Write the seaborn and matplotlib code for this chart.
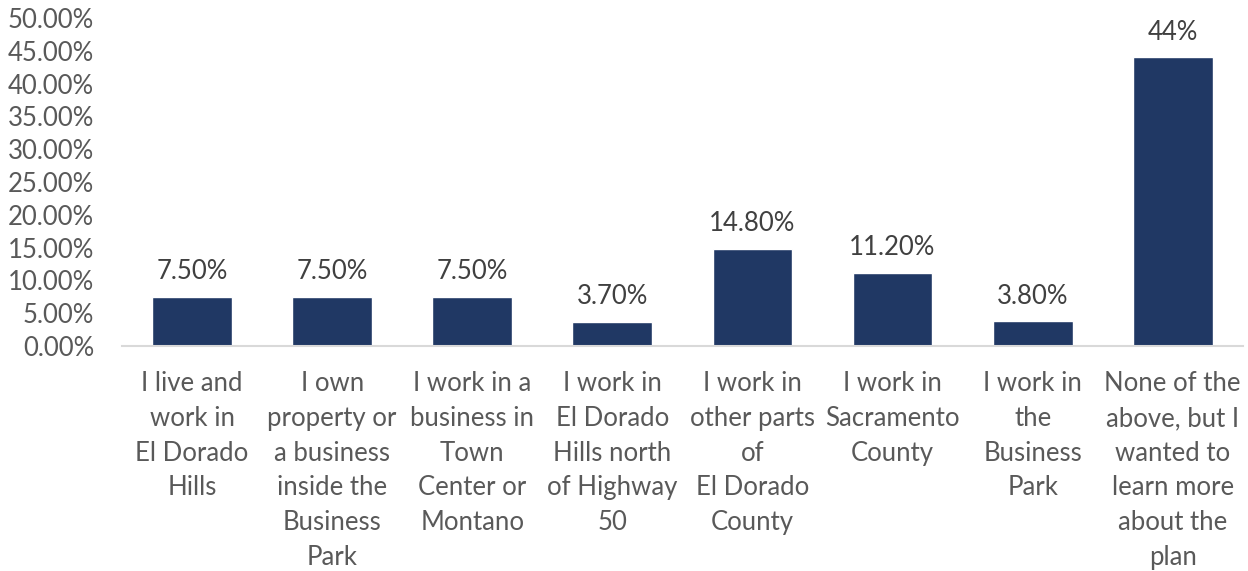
import matplotlib
matplotlib.use("Agg")
import matplotlib.pyplot as plt
from matplotlib.ticker import PercentFormatter
import seaborn as sns
import pandas as pd

categories = [
    "I live and\nwork in\nEl Dorado\nHills",
    "I own\nproperty or\na business\ninside the\nBusiness\nPark",
    "I work in a\nbusiness in\nTown\nCenter or\nMontano",
    "I work in\nEl Dorado\nHills north\nof Highway\n50",
    "I work in\nother parts\nof\nEl Dorado\nCounty",
    "I work in\nSacramento\nCounty",
    "I work in\nthe\nBusiness\nPark",
    "None of the\nabove, but I\nwanted to\nlearn more\nabout the\nplan",
]
shares = [0.075, 0.075, 0.075, 0.037, 0.148, 0.112, 0.038, 0.44]
label_decimals = [2, 2, 2, 2, 2, 2, 2, 0]

sns.set_theme(style="white")
plt.rcParams["font.family"] = ["Lato", "DejaVu Sans"]

df = pd.DataFrame({"group": categories, "share": shares})

fig = plt.figure(figsize=(12.48, 5.71), dpi=100)
ax = fig.add_axes([0.0978, 0.394, 0.898, 0.5745])

sns.barplot(data=df, x="group", y="share", color="#203864", saturation=1,
            width=0.57, ax=ax)

ax.set_ylim(0, 0.5)
ax.set_yticks([i * 0.05 for i in range(11)])
ax.yaxis.set_major_formatter(PercentFormatter(1.0, decimals=2))
ax.set_xlim(-0.5, len(categories) - 0.5)
ax.set_xlabel("")
ax.set_ylabel("")

for side in ["left", "right", "top"]:
    ax.spines[side].set_visible(False)
ax.spines["bottom"].set_color("#d9d9d9")
ax.spines["bottom"].set_linewidth(1.5)

ax.tick_params(axis="y", length=0, pad=20, labelsize=18.5, labelcolor="#595959")
ax.tick_params(axis="x", length=0, pad=18, labelsize=18.5, labelcolor="#595959")
for lbl in ax.get_xticklabels():
    lbl.set_linespacing(1.49)
    lbl.set_verticalalignment("top")

labels = [f"{v * 100:.{d}f}%" for v, d in zip(shares, label_decimals)]
ax.bar_label(ax.containers[0], labels=labels, padding=9, fontsize=18.5,
             color="#404040")

fig.savefig("out.png", dpi=100)
